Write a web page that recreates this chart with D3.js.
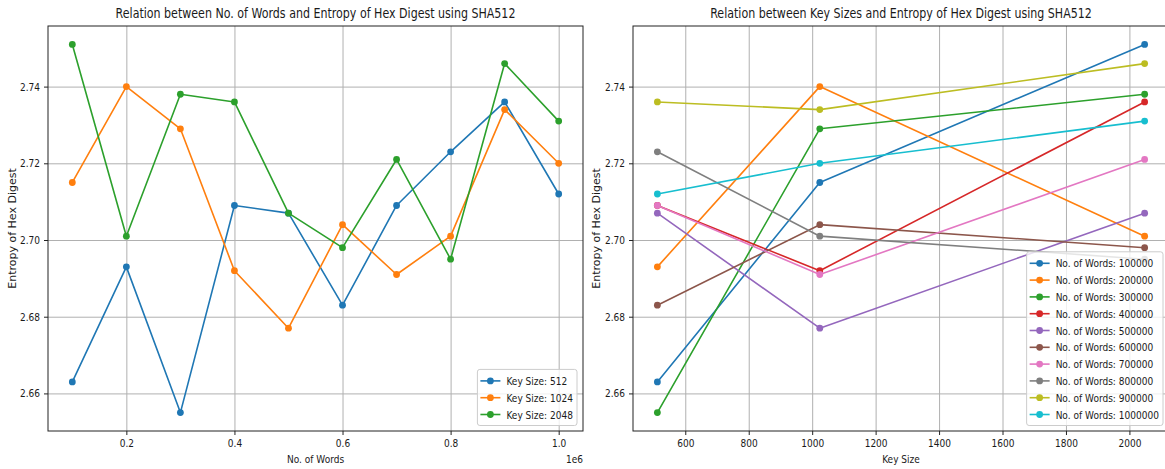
<!DOCTYPE html>
<html>
<head>
<meta charset="utf-8">
<script src="https://cdn.jsdelivr.net/npm/d3@7"></script>
<style>
  html, body { margin: 0; padding: 0; background: #fff; }
  svg { display: block; font-family: "DejaVu Sans", sans-serif; }
</style>
</head>
<body>
<svg id="chart" width="1165" height="469"></svg>
<script>
// Measured entropy of the SHA512 hex digest, one array per key size,
// indexed by the number of words in the input.
const wordCounts = [100000, 200000, 300000, 400000, 500000, 600000, 700000, 800000, 900000, 1000000];
const keySizes = [512, 1024, 2048];
const entropyKey512  = [2.663, 2.693, 2.655, 2.709, 2.707, 2.683, 2.709, 2.723, 2.736, 2.712];
const entropyKey1024 = [2.715, 2.740, 2.729, 2.692, 2.677, 2.704, 2.691, 2.701, 2.734, 2.720];
const entropyKey2048 = [2.751, 2.701, 2.738, 2.736, 2.707, 2.698, 2.721, 2.695, 2.746, 2.731];

// Tick positions and labels
const wordTicks = [200000, 400000, 600000, 800000, 1000000];
const wordTickLabels = ["0.2", "0.4", "0.6", "0.8", "1.0"];
const keyTicks = [600, 800, 1000, 1200, 1400, 1600, 1800, 2000];
const entropyTicks = [2.66, 2.68, 2.70, 2.72, 2.74];

const palette = ["#1f77b4", "#ff7f0e", "#2ca02c", "#d62728", "#9467bd",
                 "#8c564b", "#e377c2", "#7f7f7f", "#bcbd22", "#17becf"];

const entropyByKey = [entropyKey512, entropyKey1024, entropyKey2048];

// Left panel: one line per key size across word counts
const keySeries = keySizes.map((k, i) => ({
  label: `Key Size: ${k}`,
  color: palette[i],
  points: wordCounts.map((w, j) => [w, entropyByKey[i][j]])
}));

// Right panel: one line per word count across key sizes
const wordSeries = wordCounts.map((w, j) => ({
  label: `No. of Words: ${w}`,
  color: palette[j],
  points: keySizes.map((k, i) => [k, entropyByKey[i][j]])
}));

const svg = d3.select("#chart");
const TEXT = "#1a1a1a";
const SQUEEZE = 0.82;   // horizontal text compression

// Narrow a text horizontally around its anchor point
function squeeze(sel) {
  sel.each(function () {
    const t = d3.select(this);
    const x = +(t.attr("x") || 0), y = +(t.attr("y") || 0);
    t.attr("x", 0).attr("y", 0)
     .attr("transform", `translate(${x},${y}) scale(${SQUEEZE},1)`);
  });
}

function padded(ext) {
  const d = (ext[1] - ext[0]) * 0.05;
  return [ext[0] - d, ext[1] + d];
}

const allEntropy = entropyByKey.flat();
const yDomain = padded(d3.extent(allEntropy));

function drawPanel(cfg) {
  const { left, right, top, bottom, series, xTicks, xFormat, title, xLabel, yLabel, yLabelX, offsetText, id } = cfg;
  const xs = series.flatMap(s => s.points.map(p => p[0]));
  const x = d3.scaleLinear().domain(padded(d3.extent(xs))).range([left, right]);
  const y = d3.scaleLinear().domain(yDomain).range([bottom, top]);
  const h = bottom - top, w = right - left;

  const g = svg.append("g");

  g.append("clipPath").attr("id", id).append("rect")
    .attr("x", left).attr("y", top).attr("width", w).attr("height", h);

  // grid
  const gridX = g.append("g").attr("transform", `translate(0,${bottom})`)
    .call(d3.axisBottom(x).tickValues(xTicks).tickSize(-h).tickFormat(""));
  const gridY = g.append("g").attr("transform", `translate(${left},0)`)
    .call(d3.axisLeft(y).tickValues(entropyTicks).tickSize(-w).tickFormat(""));
  [gridX, gridY].forEach(a => {
    a.select(".domain").remove();
    a.selectAll("text").remove();
    a.selectAll("line").attr("stroke", "#b0b0b0").attr("stroke-width", 1);
  });

  // lines and markers
  const plot = g.append("g").attr("clip-path", `url(#${id})`);
  const line = d3.line().x(d => x(d[0])).y(d => y(d[1]));
  series.forEach(s => {
    plot.append("path").datum(s.points)
      .attr("fill", "none").attr("stroke", s.color).attr("stroke-width", 1.6)
      .attr("stroke-linejoin", "round").attr("d", line);
    plot.selectAll(null).data(s.points).enter().append("circle")
      .attr("cx", d => x(d[0])).attr("cy", d => y(d[1])).attr("r", 3.4)
      .attr("fill", s.color);
  });

  // axes with ticks and labels
  const ax = g.append("g").attr("transform", `translate(0,${bottom})`)
    .call(d3.axisBottom(x).tickValues(xTicks).tickFormat(xFormat).tickSize(4).tickPadding(4));
  const ay = g.append("g").attr("transform", `translate(${left},0)`)
    .call(d3.axisLeft(y).tickValues(entropyTicks).tickFormat(d3.format(".2f")).tickSize(4).tickPadding(4));
  [ax, ay].forEach(a => {
    a.select(".domain").remove();
    a.selectAll("line").attr("stroke", "#222").attr("stroke-width", 1);
    a.selectAll("text").attr("fill", TEXT).attr("font-size", 11)
      .attr("font-family", "DejaVu Sans, sans-serif");
    squeeze(a.selectAll("text"));
  });

  // spines
  g.append("rect").attr("x", left).attr("y", top).attr("width", w).attr("height", h)
    .attr("fill", "none").attr("stroke", "#222").attr("stroke-width", 1);

  // titles and axis labels
  const t = g.append("text").attr("x", (left + right) / 2).attr("y", 18)
    .attr("text-anchor", "middle").attr("font-size", 13.5).attr("fill", TEXT).text(title);
  squeeze(t);
  const xl = g.append("text").attr("x", (left + right) / 2).attr("y", 463)
    .attr("text-anchor", "middle").attr("font-size", 11).attr("fill", TEXT).text(xLabel);
  squeeze(xl);
  g.append("text").attr("transform", `translate(${yLabelX},${(top + bottom) / 2}) rotate(-90)`)
    .attr("text-anchor", "middle").attr("font-size", 11).attr("fill", TEXT).text(yLabel);
  if (offsetText) {
    const o = g.append("text").attr("x", right).attr("y", 463)
      .attr("text-anchor", "end").attr("font-size", 11).attr("fill", TEXT).text(offsetText);
    squeeze(o);
  }

  // legend, lower right
  const rowH = 16.8;
  const lastCy = bottom - 16.5;
  const lg = g.append("g");
  const frame = lg.append("rect");
  const rows = lg.selectAll("g.row").data(series).enter().append("g")
    .attr("transform", (d, i) => `translate(0,${lastCy - (series.length - 1 - i) * rowH})`);
  const texts = rows.append("text").attr("y", 4).attr("font-size", 11).attr("fill", TEXT)
    .text(d => d.label);
  const maxW = d3.max(texts.nodes(), n => n.getComputedTextLength()) * SQUEEZE;
  const boxW = 3 + 20 + 6 + maxW + 4;
  const boxRight = right - 6;
  const boxLeft = boxRight - boxW;
  texts.attr("x", boxLeft + 29);
  squeeze(texts);
  rows.append("line").attr("x1", boxLeft + 3).attr("x2", boxLeft + 23)
    .attr("stroke", d => d.color).attr("stroke-width", 1.6);
  rows.append("circle").attr("cx", boxLeft + 13).attr("r", 3.4).attr("fill", d => d.color);
  const boxTop = lastCy - (series.length - 1) * rowH - 11.5;
  frame.attr("x", boxLeft).attr("y", boxTop).attr("width", boxW)
    .attr("height", bottom - 5.5 - boxTop).attr("rx", 2.5)
    .attr("fill", "#fff").attr("fill-opacity", 0.8).attr("stroke", "#cccccc").attr("stroke-width", 1);
}

drawPanel({
  id: "clip-words",
  left: 48, right: 583, top: 26, bottom: 431,
  series: keySeries,
  xTicks: wordTicks,
  xFormat: (d, i) => wordTickLabels[i],
  title: "Relation between No. of Words and Entropy of Hex Digest using SHA512",
  xLabel: "No. of Words",
  yLabel: "Entropy of Hex Digest",
  yLabelX: 16,
  offsetText: "1e6"
});

drawPanel({
  id: "clip-keys",
  left: 633, right: 1169, top: 26, bottom: 431,
  series: wordSeries,
  xTicks: keyTicks,
  xFormat: d3.format("d"),
  title: "Relation between Key Sizes and Entropy of Hex Digest using SHA512",
  xLabel: "Key Size",
  yLabel: "Entropy of Hex Digest",
  yLabelX: 600,
  offsetText: null
});
</script>
</body>
</html>
